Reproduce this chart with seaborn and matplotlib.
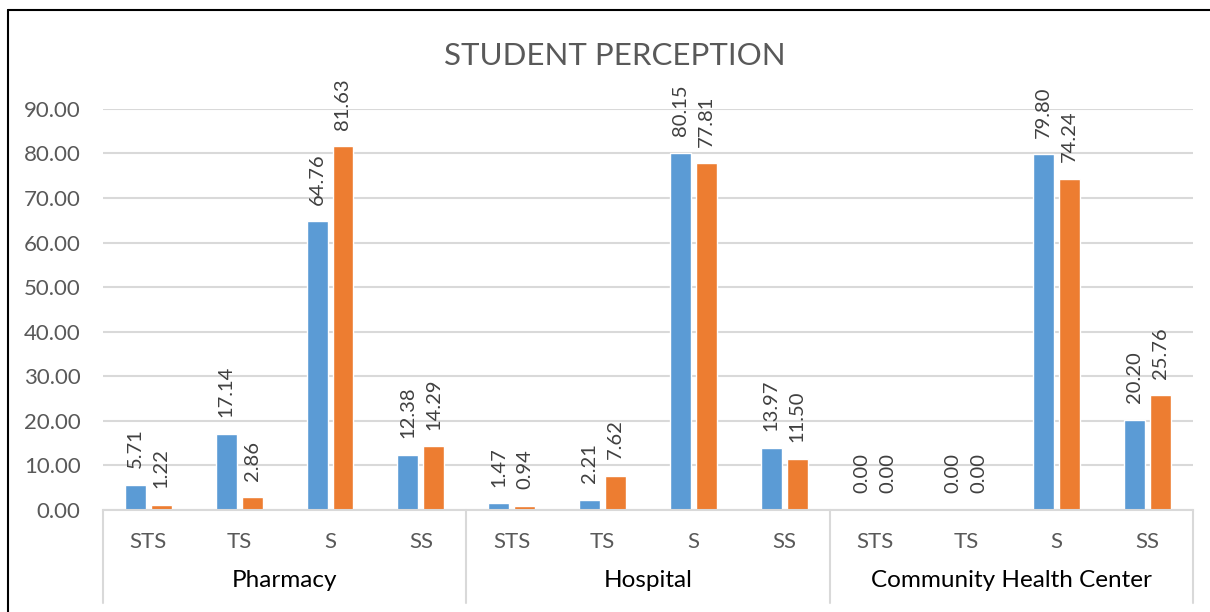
import pandas as pd
import matplotlib.pyplot as plt
import matplotlib.transforms as mtransforms
from matplotlib.lines import Line2D
import seaborn as sns

# data
groups = ['Pharmacy', 'Hospital', 'Community Health Center']
subcats = ['STS', 'TS', 'S', 'SS']
series_names = ['Series1', 'Series2']
blue_vals = [5.71, 17.14, 64.76, 12.38, 1.47, 2.21, 80.15, 13.97, 0.00, 0.00, 79.80, 20.20]
orange_vals = [1.22, 2.86, 81.63, 14.29, 0.94, 7.62, 77.81, 11.50, 0.00, 0.00, 74.24, 25.76]

keys = [g + ' ' + s for g in groups for s in subcats]
df = pd.DataFrame({
    'key': keys * 2,
    'series': [series_names[0]] * 12 + [series_names[1]] * 12,
    'value': blue_vals + orange_vals,
})

sns.set_style('white')
plt.rcParams['font.family'] = ['Lato', 'DejaVu Sans']

fig = plt.figure(figsize=(12.1, 6.12), dpi=100)
ax = fig.add_axes([0.0851, 0.1667, 0.9008, 0.6553])

sns.barplot(data=df, x='key', y='value', hue='series', order=keys,
            palette=['#5B9BD5', '#ED7D31'], width=0.57, gap=0.19,
            legend=False, ax=ax, saturation=1)

for c in ax.containers:
    ax.bar_label(c, fmt='%.2f', rotation=90, padding=12, fontsize=14.5, color='#404040')

ax.set_ylim(0, 90)
ax.set_xlim(-0.5, 11.5)
ax.set_yticks(range(0, 91, 10))
ax.set_yticklabels([f'{v:.2f}' for v in range(0, 91, 10)], fontsize=16, color='#595959')
ax.tick_params(axis='y', length=0, pad=16)
ax.yaxis.grid(True, color='#D9D9D9', linewidth=1.5)
ax.set_axisbelow(True)
for s in ['left', 'right', 'top']:
    ax.spines[s].set_visible(False)
ax.spines['bottom'].set_color('#D9D9D9')
ax.spines['bottom'].set_linewidth(1.5)

ax.set_xticks(range(12))
ax.set_xticklabels([])
ax.tick_params(axis='x', length=0)
ax.set_xlabel('')
ax.set_ylabel('')

trans = mtransforms.blended_transform_factory(ax.transData, ax.transAxes)
for i, k in enumerate(keys):
    ax.text(i, -0.08, subcats[i % 4], transform=trans, ha='center', va='center',
            fontsize=16, color='#595959')
for gi, g in enumerate(groups):
    ax.text(gi * 4 + 1.5, -0.177, g, transform=trans, ha='center', va='center',
            fontsize=17.5, color='black')
for xb in [-0.5, 3.5, 7.5, 11.5]:
    ax.plot([xb, xb], [0, -0.232], transform=trans, color='#D9D9D9',
            linewidth=1.5, clip_on=False)

fig.text(0.508, 0.908, 'STUDENT PERCEPTION', ha='center', va='center',
         fontsize=22.5, color='#595959')

# outer border (top and left only visible)
fig.add_artist(Line2D([8 / 1210, 1], [1 - 10 / 612, 1 - 10 / 612], color='black', linewidth=1.5))
fig.add_artist(Line2D([8 / 1210, 8 / 1210], [0, 1 - 10 / 612], color='black', linewidth=1.5))

fig.savefig('out.png', dpi=100, facecolor='white')
